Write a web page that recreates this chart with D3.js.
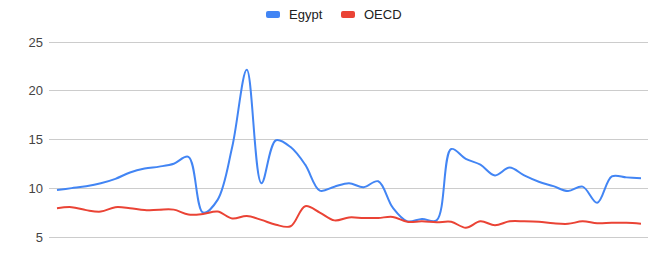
<!DOCTYPE html>
<html>
<head>
<meta charset="utf-8">
<script src="https://cdn.jsdelivr.net/npm/d3@7"></script>
<style>
  html, body { margin: 0; padding: 0; background: #fff; }
  svg { display: block; }
</style>
</head>
<body>
<svg id="chart" width="669" height="272"></svg>
<script>
const years = [1982,1983,1984,1985,1986,1987,1988,1989,1990,1991,1992,1993,1994,1995,1996,1997,1998,1999,2000,2001,2002,2003,2004,2005,2006,2007,2008,2009,2010,2011,2012,2013,2014,2015,2016,2017,2018,2019,2020,2021,2022];
const egypt = [9.8,10.0,10.2,10.5,10.95,11.6,12.0,12.2,12.5,13.2,7.5,8.8,14.2,22.1,10.5,14.9,14.2,12.4,9.75,10.15,10.5,10.1,10.7,8.0,6.6,6.85,6.7,14.0,13.0,12.4,11.3,12.1,11.3,10.65,10.2,9.7,10.15,8.5,11.2,11.1,11.0];
const oecd = [7.95,8.05,7.75,7.6,8.05,7.95,7.75,7.8,7.8,7.3,7.35,7.6,6.9,7.15,6.75,6.25,6.1,8.15,7.5,6.7,7.0,6.95,6.95,7.05,6.55,6.6,6.5,6.55,5.95,6.6,6.2,6.6,6.6,6.55,6.4,6.35,6.6,6.4,6.45,6.45,6.35];
const seriesNames = ["Egypt", "OECD"];
const seriesColors = ["#4285F4", "#EA4335"];
const yTicks = [5, 10, 15, 20, 25];

const svg = d3.select("#chart");
const font = "'Liberation Sans', Arial, sans-serif";

const x = d3.scalePoint().domain(years).range([57, 641]);
const y = d3.scaleLinear().domain([5, 25]).range([237, 41.5]);

// gridlines
svg.append("g").selectAll("line").data(yTicks).join("line")
  .attr("x1", 49).attr("x2", 648)
  .attr("y1", d => Math.round(y(d)) + 0.5).attr("y2", d => Math.round(y(d)) + 0.5)
  .attr("stroke", "#cccccc").attr("stroke-width", 1);

// y axis labels
const yAxis = d3.axisLeft(y).tickValues(yTicks).tickSize(0).tickPadding(0);
const ga = svg.append("g").attr("transform", "translate(43,0)").call(yAxis);
ga.select(".domain").remove();
ga.selectAll("text").attr("font-family", font).attr("font-size", 13).attr("fill", "#444").attr("dy", "0.35em");

const line = d3.line().x((d, i) => x(years[i])).y(d => y(d)).curve(d3.curveCatmullRom.alpha(0.5));

[egypt, oecd].forEach((vals, i) => {
  svg.append("path").datum(vals)
    .attr("d", line)
    .attr("fill", "none")
    .attr("stroke", seriesColors[i])
    .attr("stroke-width", 2)
    .attr("stroke-linejoin", "round");
});

// legend
const legendItems = [
  {name: seriesNames[0], color: seriesColors[0], x: 266},
  {name: seriesNames[1], color: seriesColors[1], x: 341}
];
const lg = svg.append("g");
legendItems.forEach(it => {
  lg.append("rect").attr("x", it.x).attr("y", 11).attr("width", 14).attr("height", 7).attr("rx", 2)
    .attr("fill", it.color);
  lg.append("text").attr("x", it.x + 23).attr("y", 14.5).attr("dy", "0.35em")
    .attr("font-family", font).attr("font-size", 13).attr("fill", "#222").text(it.name);
});
</script>
</body>
</html>
